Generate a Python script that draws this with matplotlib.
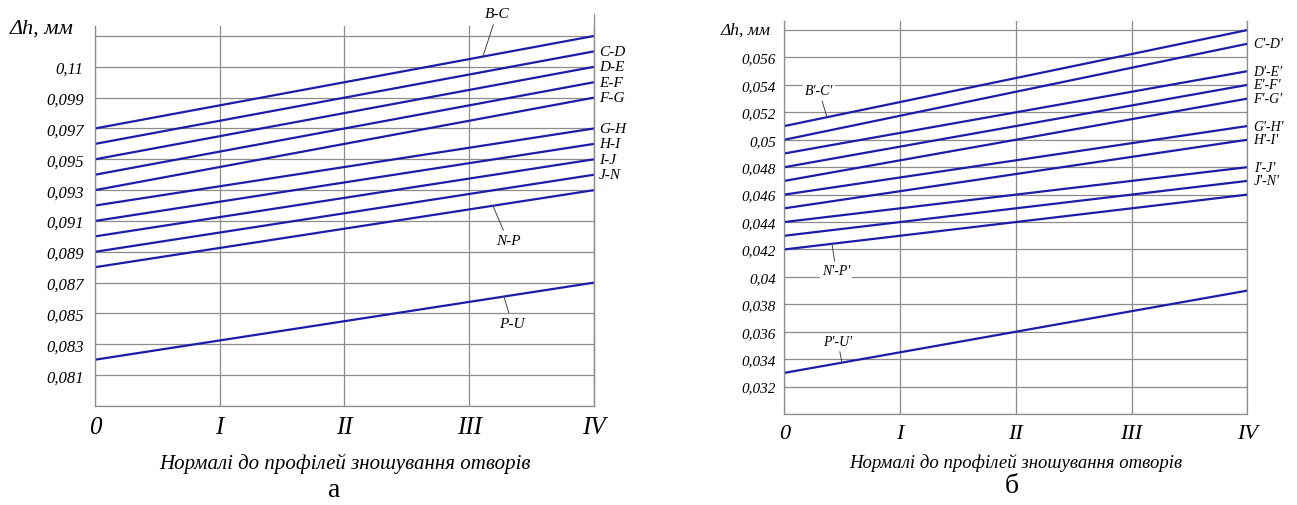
import numpy as np
import matplotlib.pyplot as plt

# normals (x positions) and their roman labels
normals = [0, 1, 2, 3, 4]
normal_labels = ['0', 'I', 'II', 'III', 'IV']

# panel a
names_a = ['B-C', 'C-D', 'D-E', 'E-F', 'F-G', 'G-H', 'H-I', 'I-J', 'J-N', 'N-P', 'P-U']
start_a = [0.097, 0.096, 0.095, 0.094, 0.093, 0.092, 0.091, 0.090, 0.089, 0.088, 0.082]
end_a = [0.103, 0.102, 0.101, 0.100, 0.099, 0.097, 0.096, 0.095, 0.094, 0.093, 0.087]
yticks_a = [0.079, 0.081, 0.083, 0.085, 0.087, 0.089, 0.091, 0.093, 0.095, 0.097, 0.099, 0.101, 0.103]
ylabels_a = ['', '0,081', '0,083', '0,085', '0,087', '0,089', '0,091', '0,093', '0,095',
             '0,097', '0,099', '0,11', '']

# panel б
names_b = ["B'-C'", "C'-D'", "D'-E'", "E'-F'", "F'-G'", "G'-H'", "H'-I'", "I'-J'", "J'-N'",
           "N'-P'", "P'-U'"]
start_b = [0.051, 0.050, 0.049, 0.048, 0.047, 0.046, 0.045, 0.044, 0.043, 0.042, 0.033]
end_b = [0.058, 0.057, 0.055, 0.054, 0.053, 0.051, 0.050, 0.048, 0.047, 0.046, 0.039]
yticks_b = [0.030, 0.032, 0.034, 0.036, 0.038, 0.040, 0.042, 0.044, 0.046, 0.048, 0.050,
            0.052, 0.054, 0.056, 0.058]
ylabels_b = ['', '0,032', '0,034', '0,036', '0,038', '0,04', '0,042', '0,044', '0,046',
             '0,048', '0,05', '0,052', '0,054', '0,056', '']

xtitle = 'Нормалі до профілей зношування отворів'
serif = 'Liberation Serif'
blue = '#1c1ca8'
grey = '#8c8c8c'

plt.rcParams['font.family'] = serif

fig = plt.figure(figsize=(12.97, 5.06), dpi=100)
ax1 = fig.add_axes([0.0732, 0.1957, 0.3847, 0.7510])
ax2 = fig.add_axes([0.6047, 0.1798, 0.3570, 0.7767])


def setup(ax, yticks, ylabels, ylim, tick_fs, x_fs, ypad):
    ax.set_xlim(0, 4)
    ax.set_ylim(*ylim)
    ax.set_xticks(normals)
    ax.set_xticklabels(normal_labels, fontsize=x_fs, style='italic')
    ax.set_yticks(yticks)
    ax.set_yticklabels(ylabels, fontsize=tick_fs, style='italic')
    ax.tick_params(length=0)
    ax.tick_params(axis='y', pad=ypad)
    ax.tick_params(axis='x', pad=7)
    ax.grid(True, color=grey, linewidth=0.9)
    ax.set_axisbelow(True)
    for s in ['left', 'bottom', 'right']:
        ax.spines[s].set_color(grey)
        ax.spines[s].set_linewidth(0.9)
    ax.spines['top'].set_visible(False)


def draw(ax, names, start, end, right_names, fs, dx):
    for n, a, b in zip(names, start, end):
        ax.plot([0, 4], [a, b], color=blue, linewidth=1.6, solid_capstyle='butt')
        if n in right_names:
            ax.annotate(n, (4, b), xytext=(dx, 0), textcoords='offset points',
                        ha='left', va='center', fontsize=fs, style='italic',
                        annotation_clip=False)


def leader(ax, text, xy, xytext, fs, box=False):
    kw = {}
    if box:
        kw['bbox'] = dict(boxstyle='square,pad=0.15', fc='white', ec='none')
    ax.annotate(text, xy, xytext=xytext, ha='center', va='center', fontsize=fs,
                style='italic', annotation_clip=False,
                arrowprops=dict(arrowstyle='-', color='#444444', lw=0.7,
                                shrinkA=1, shrinkB=0), **kw)


setup(ax1, yticks_a, ylabels_a, (0.079, 0.10365), 12, 18, 8)
# the IV line of panel a runs a little higher than the others
ax1.plot([4, 4], [0.079, 0.10443], color=grey, linewidth=0.9, clip_on=False, zorder=0.5)
draw(ax1, names_a, start_a, end_a, names_a[1:9], 11, 3.5)
leader(ax1, names_a[0], (3.11, 0.10167), (3.222, 0.10443), 11)
leader(ax1, names_a[9], (3.19, 0.09199), (3.311, 0.08971), 11)
leader(ax1, names_a[10], (3.279, 0.0861), (3.343, 0.08435), 11)
ax1.text(-0.68, 0.1035, 'Δh, мм', fontsize=16, style='italic', ha='left', va='center')
ax1.set_xlabel(xtitle, fontsize=15, style='italic', labelpad=11)
fig.text(334 / 1297, 1 - 491 / 506, 'а', fontsize=20, ha='center', va='center')

setup(ax2, yticks_b, ylabels_b, (0.030, 0.05866), 11, 16, 6)
draw(ax2, names_b, start_b, end_b, names_b[1:9], 10, 4.5)
leader(ax2, names_b[0], (0.369, 0.05165), (0.30, 0.05356), 10, box=True)
leader(ax2, names_b[9], (0.412, 0.04241), (0.447, 0.04043), 10, box=True)
leader(ax2, names_b[10], (0.498, 0.03375), (0.462, 0.03532), 10)
ax2.text(-0.55, 0.0580, 'Δh, мм', fontsize=12.5, style='italic', ha='left', va='center')
ax2.set_xlabel(xtitle, fontsize=13.5, style='italic', labelpad=7)
fig.text(1012 / 1297, 1 - 487 / 506, 'б', fontsize=20, ha='center', va='center')

fig.savefig('out.png', dpi=100)
